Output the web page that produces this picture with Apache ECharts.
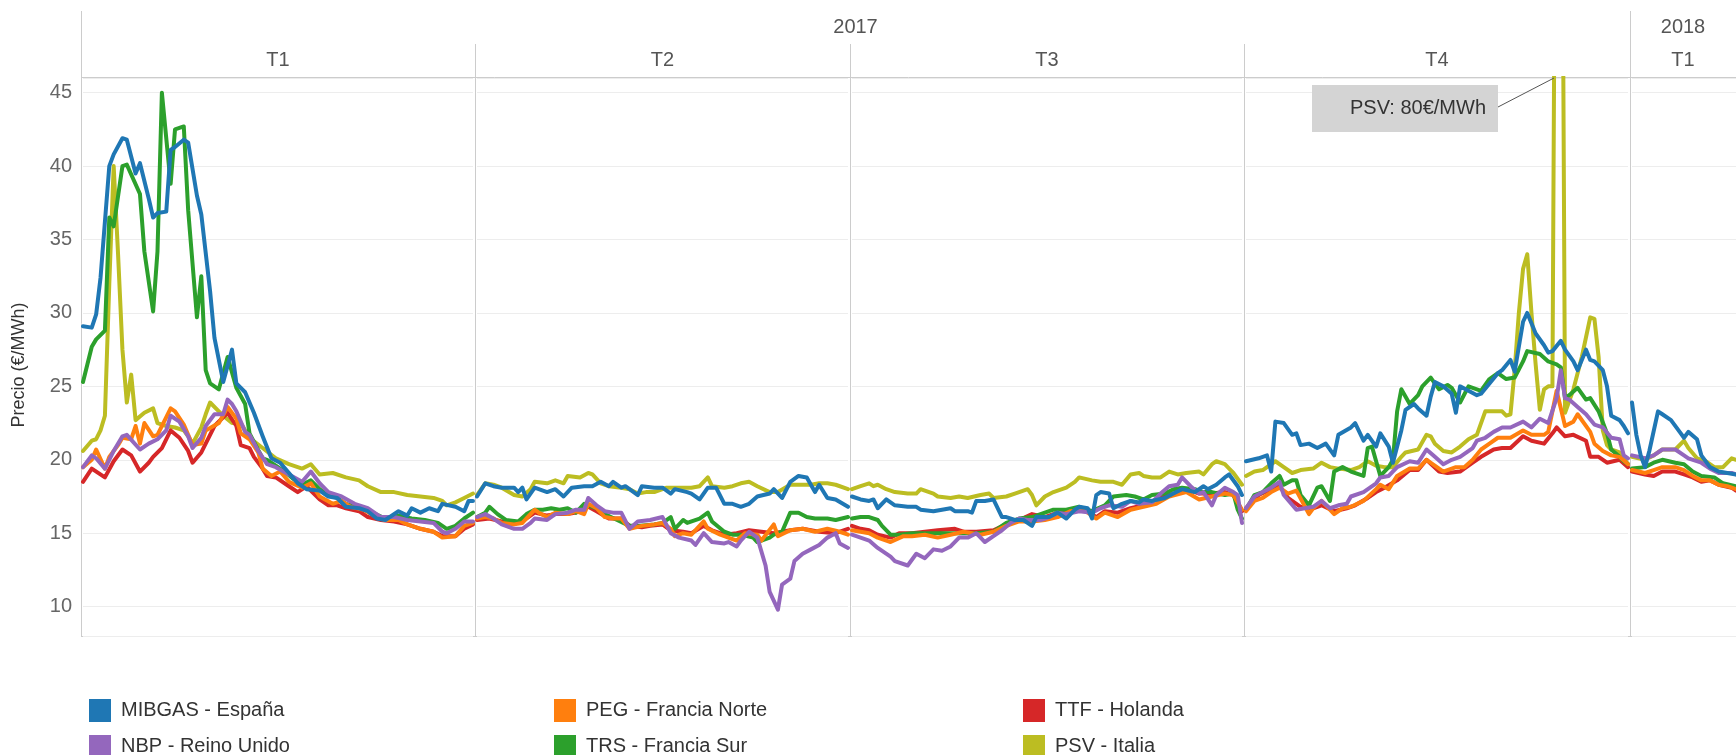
<!DOCTYPE html>
<html>
<head>
<meta charset="utf-8">
<title>Precio gas - hubs europeos</title>
<script src="https://cdn.jsdelivr.net/npm/echarts@6/dist/echarts.min.js"></script>
<style>
  html, body { margin: 0; padding: 0; background: #fff; }
  #chart { width: 1736px; height: 755px; }
</style>
</head>
<body>
<div id="chart"></div>
<script>
// panes: one per quarter, x = day inside the quarter
var yearLabels = ['2017', '2018'];
var quarterLabels = ['T1', 'T2', 'T3', 'T4', 'T1'];
var quarterYear = [0, 0, 0, 0, 1];
var quarterLastDay = [89, 90, 91, 91, 24];

// [day, €/MWh] per quarter
var mibgas = [
  [[0,29.1],[2,29.0],[3,29.9],[4,32.4],[6,40.0],[7,40.8],[9,41.9],[10,41.8],[12,39.5],[13,40.2],[15,37.8],[16,36.5],[17,36.8],[19,36.9],[20,41.1],[21,41.3],[23,41.8],[24,41.6],[26,38.0],[27,36.7],[29,31.5],[30,28.3],[32,25.3],[34,27.5],[35,25.2],[37,24.6],[39,23.2],[41,21.6],[43,20.1],[45,19.8],[47,19.1],[49,18.4],[51,18.0],[54,17.9],[56,17.5],[58,17.4],[60,16.8],[63,16.7],[65,16.5],[67,16.0],[69,15.9],[72,16.5],[74,16.2],[75,16.7],[77,16.4],[79,16.7],[81,16.5],[82,17.0],[85,16.8],[87,16.5],[88,17.2],[89,17.2]],
  [[0,17.5],[2,18.4],[4,18.2],[6,18.1],[9,18.1],[10,17.8],[11,18.1],[12,17.3],[14,18.1],[17,17.8],[19,18.0],[21,17.5],[23,18.1],[26,18.2],[28,18.2],[30,18.5],[32,18.2],[33,18.5],[35,18.1],[36,18.2],[39,17.6],[40,18.2],[43,18.1],[45,18.1],[47,17.7],[48,18.0],[51,17.8],[52,17.7],[54,17.3],[56,18.1],[58,18.1],[60,17.0],[62,17.0],[64,16.8],[66,17.0],[68,17.5],[71,17.7],[72,18.0],[74,17.4],[76,18.5],[78,18.9],[80,18.8],[82,17.8],[83,18.3],[85,17.4],[87,17.3],[90,16.8]],
  [[0,17.5],[2,17.3],[4,17.2],[5,17.3],[6,16.7],[8,17.3],[10,16.9],[13,16.8],[15,16.8],[16,16.6],[19,16.5],[21,16.6],[23,16.7],[24,16.5],[27,16.5],[28,16.4],[29,17.2],[31,17.2],[33,17.3],[35,16.1],[36,16.1],[38,15.9],[40,15.9],[42,15.5],[43,16.1],[46,16.1],[48,16.4],[50,16.0],[52,16.6],[53,16.8],[55,16.7],[56,16.0],[57,17.6],[58,17.8],[60,17.7],[61,16.7],[63,17.0],[65,17.2],[67,17.1],[68,17.3],[70,17.2],[73,17.4],[75,17.7],[77,18.0],[80,17.8],[82,18.2],[83,18.0],[85,18.3],[87,18.8],[88,19.0],[90,18.2],[91,17.6]],
  [[0,19.9],[3,20.1],[5,20.3],[6,19.2],[7,22.6],[9,22.5],[11,21.7],[12,21.8],[13,21.0],[15,21.1],[17,20.8],[19,21.1],[21,20.3],[22,21.7],[25,22.2],[26,22.5],[28,21.3],[29,21.7],[31,20.9],[32,21.8],[34,20.9],[35,19.8],[37,22.0],[38,23.4],[40,23.8],[41,23.5],[43,23.0],[44,24.3],[45,25.3],[47,25.0],[49,24.5],[50,23.2],[51,25.0],[53,24.7],[55,24.4],[56,24.5],[58,25.2],[60,25.9],[61,26.1],[63,26.8],[64,26.0],[66,29.4],[67,30.0],[69,28.6],[71,27.8],[72,27.3],[73,27.4],[75,28.1],[76,27.5],[78,26.7],[79,26.1],[81,27.5],[82,26.8],[83,26.7],[85,26.1],[86,25.0],[87,23.0],[89,22.7],[90,22.3],[91,21.8]],
  [[0,23.9],[1,21.7],[2,20.3],[3,19.5],[4,20.6],[6,23.3],[7,23.1],[9,22.7],[11,21.9],[12,21.5],[13,21.9],[15,21.4],[16,20.3],[18,19.5],[20,19.2],[22,19.1],[24,19.0]]
];
var peg = [
  [[0,19.5],[2,20.0],[3,20.7],[5,19.4],[6,20.2],[8,21.0],[9,21.5],[11,21.4],[12,22.3],[13,21.1],[14,22.5],[16,21.6],[17,21.7],[20,23.5],[21,23.3],[23,22.4],[25,21.0],[27,21.1],[28,22.0],[31,22.5],[33,23.6],[35,22.8],[36,21.8],[38,21.4],[40,20.5],[41,19.4],[43,18.9],[45,19.2],[47,18.5],[50,18.1],[52,18.4],[54,17.5],[57,17.0],[59,17.2],[61,16.8],[64,16.6],[67,16.1],[69,15.9],[72,15.9],[74,15.6],[77,15.3],[80,15.1],[82,14.7],[85,14.8],[87,15.5],[89,15.7]],
  [[0,16.0],[2,16.1],[4,16.0],[6,15.7],[9,15.6],[11,15.7],[14,16.6],[15,16.4],[17,16.1],[19,16.4],[22,16.3],[24,16.5],[26,16.3],[27,17.0],[29,16.7],[31,16.1],[33,16.0],[35,16.0],[37,15.3],[40,15.5],[43,15.6],[45,15.7],[47,15.3],[48,14.8],[50,15.0],[52,14.9],[55,15.8],[56,15.3],[59,14.9],[61,14.7],[63,14.5],[65,15.0],[68,14.9],[69,14.5],[72,15.6],[73,14.8],[76,15.2],[79,15.3],[82,15.1],[85,15.3],[88,15.1],[90,14.9]],
  [[0,15.2],[4,15.0],[6,14.7],[9,14.4],[12,14.8],[14,14.8],[17,14.9],[20,14.7],[23,14.9],[26,15.1],[30,14.9],[33,15.1],[36,15.5],[39,15.8],[42,15.8],[45,15.9],[48,16.1],[51,16.5],[54,16.6],[57,16.0],[59,16.4],[62,16.1],[65,16.6],[68,16.8],[71,17.0],[74,17.5],[78,17.8],[81,17.3],[84,17.5],[87,17.7],[89,17.6],[91,16.6]],
  [[0,16.5],[2,17.2],[4,17.4],[6,17.8],[8,18.1],[10,17.7],[12,17.9],[15,16.3],[16,16.7],[18,17.2],[21,16.3],[23,16.7],[25,16.8],[28,17.2],[31,18.0],[32,18.3],[34,18.0],[36,18.9],[39,19.4],[41,19.4],[43,20.0],[46,19.4],[47,19.2],[50,19.5],[52,19.5],[54,20.0],[56,20.7],[58,21.1],[60,21.5],[63,21.5],[66,22.0],[68,21.7],[71,21.7],[72,21.9],[73,23.3],[74,24.7],[76,22.3],[78,22.6],[79,23.1],[82,21.9],[83,21.1],[85,20.6],[87,20.3],[89,20.2],[91,19.7]],
  [[0,19.3],[3,19.1],[5,19.3],[7,19.5],[10,19.5],[12,19.3],[14,18.9],[16,18.6],[18,18.6],[20,18.3],[22,18.2],[24,18.0]]
];
var ttf = [
  [[0,18.5],[2,19.4],[5,18.8],[7,19.9],[9,20.7],[11,20.3],[13,19.2],[15,19.8],[16,20.2],[18,20.8],[20,22.0],[22,21.5],[24,20.6],[25,19.8],[27,20.5],[29,21.7],[30,22.3],[33,23.2],[35,22.3],[36,21.0],[38,20.8],[39,20.2],[41,19.4],[42,18.9],[44,18.8],[47,18.2],[49,17.8],[51,18.2],[54,17.3],[56,16.9],[58,16.9],[60,16.7],[63,16.5],[65,16.1],[68,15.9],[71,15.8],[74,15.6],[77,15.3],[80,15.1],[82,14.8],[85,14.8],[87,15.3],[89,15.6]],
  [[0,15.9],[3,16.0],[6,15.8],[9,15.7],[11,15.8],[14,16.4],[17,16.2],[19,16.3],[22,16.3],[24,16.4],[27,16.8],[29,16.5],[32,16.0],[35,16.0],[37,15.5],[40,15.4],[42,15.5],[45,15.6],[47,15.2],[50,15.1],[52,15.0],[55,15.5],[57,15.2],[60,14.9],[63,15.0],[66,15.2],[69,15.1],[72,15.0],[74,15.1],[76,15.2],[79,15.3],[83,15.1],[87,15.0],[90,15.3]],
  [[0,15.5],[2,15.3],[4,15.2],[6,14.9],[9,14.7],[11,15.0],[14,15.0],[17,15.1],[20,15.2],[24,15.3],[26,15.1],[29,15.1],[33,15.2],[36,15.6],[39,15.9],[42,16.3],[45,16.1],[48,16.4],[51,16.6],[54,16.7],[57,16.1],[59,16.5],[62,16.4],[65,16.7],[68,16.9],[71,17.3],[74,17.6],[78,18.0],[81,17.7],[84,17.7],[87,17.8],[89,17.6],[91,16.5]],
  [[0,16.7],[3,17.6],[6,18.0],[8,18.2],[10,17.4],[13,16.8],[16,16.7],[18,16.9],[21,16.5],[24,16.7],[26,16.9],[29,17.4],[31,17.8],[33,18.1],[36,18.6],[39,19.3],[41,19.3],[43,20.0],[46,19.2],[48,19.1],[51,19.2],[54,19.8],[56,20.2],[59,20.7],[61,20.8],[63,20.8],[66,21.6],[68,21.3],[71,21.1],[73,21.8],[74,22.2],[76,21.6],[78,21.7],[81,21.3],[82,20.2],[84,20.2],[86,19.8],[89,20.0],[91,19.5]],
  [[0,19.2],[3,19.0],[5,18.9],[7,19.2],[10,19.2],[12,19.0],[14,18.8],[16,18.5],[18,18.6],[20,18.3],[23,18.1],[24,17.9]]
];
var nbp = [
  [[0,19.5],[2,20.3],[3,20.1],[5,19.4],[7,20.6],[9,21.6],[10,21.7],[13,20.7],[15,21.1],[17,21.4],[19,22.0],[20,23.0],[22,22.6],[24,21.6],[25,20.8],[27,21.5],[28,22.3],[30,23.1],[32,23.1],[33,24.1],[34,23.8],[35,23.3],[37,21.9],[38,21.7],[40,20.6],[42,19.7],[44,19.5],[47,19.0],[50,18.5],[52,19.2],[54,18.4],[56,17.8],[59,17.5],[62,17.0],[65,16.7],[68,16.1],[71,16.1],[74,15.9],[77,15.8],[80,15.7],[82,15.1],[83,15.0],[85,15.3],[87,15.8],[89,15.8]],
  [[0,16.1],[2,16.3],[4,16.0],[6,15.6],[9,15.3],[11,15.3],[13,15.7],[14,16.0],[17,15.9],[19,16.3],[22,16.4],[24,16.6],[26,16.6],[27,17.4],[29,16.9],[31,16.5],[33,16.4],[35,16.4],[37,15.3],[39,15.8],[42,15.9],[45,16.1],[47,15.0],[49,14.7],[52,14.5],[53,14.2],[55,15.0],[57,14.4],[60,14.3],[61,14.4],[63,14.1],[64,14.5],[66,15.1],[68,14.7],[70,12.8],[71,11.0],[73,9.8],[74,11.5],[76,11.9],[77,13.1],[79,13.6],[81,13.9],[83,14.2],[85,14.7],[87,15.0],[88,14.3],[90,14.0]],
  [[0,14.9],[2,14.7],[4,14.5],[6,14.0],[9,13.4],[10,13.1],[13,12.8],[15,13.6],[17,13.3],[19,13.9],[21,13.8],[23,14.1],[25,14.7],[27,14.7],[29,15.0],[31,14.4],[33,14.8],[35,15.2],[37,15.7],[39,16.0],[41,15.9],[44,15.9],[46,16.1],[48,16.4],[50,16.3],[53,16.5],[56,16.4],[58,16.7],[60,16.9],[63,16.8],[65,17.2],[67,17.0],[70,17.1],[72,17.7],[74,18.2],[76,18.3],[77,18.8],[79,18.2],[81,17.7],[82,17.8],[84,16.9],[85,17.6],[87,18.1],[89,17.8],[90,17.6],[91,15.7]],
  [[0,16.7],[2,17.5],[4,17.8],[6,18.1],[8,18.5],[9,17.6],[12,16.6],[14,16.7],[16,16.8],[18,17.2],[20,16.7],[22,16.9],[24,17.0],[25,17.5],[28,17.8],[31,18.4],[32,18.8],[34,18.9],[36,19.5],[39,19.9],[41,19.8],[43,20.7],[45,20.2],[47,19.7],[49,20.0],[51,20.2],[54,20.8],[55,21.3],[57,21.5],[59,21.9],[61,22.2],[63,22.2],[66,22.6],[68,22.2],[70,22.8],[72,22.5],[74,24.2],[75,26.1],[76,24.2],[77,24.1],[79,23.6],[81,23.1],[83,22.4],[85,22.2],[87,21.5],[89,21.4],[90,20.3],[91,20.1]],
  [[0,20.3],[3,20.1],[5,20.3],[7,20.7],[10,20.7],[12,20.3],[13,20.1],[16,19.8],[18,19.4],[20,19.1],[23,19.1],[24,19.0]]
];
var trs = [
  [[0,25.3],[2,27.7],[3,28.2],[5,28.8],[6,36.5],[7,35.9],[9,40.0],[10,40.1],[13,38.1],[14,34.2],[16,30.1],[17,34.2],[18,45.0],[20,38.8],[21,42.5],[23,42.7],[24,37.0],[26,29.7],[27,32.5],[28,26.1],[29,25.2],[31,24.8],[33,27.0],[35,24.9],[37,23.8],[38,21.8],[41,20.1],[42,20.0],[44,19.6],[46,19.2],[48,18.7],[50,18.3],[52,18.6],[54,18.0],[56,17.6],[58,17.4],[60,17.0],[63,16.8],[66,16.4],[69,16.0],[72,16.2],[75,16.0],[78,15.9],[81,15.7],[83,15.3],[85,15.5],[87,16.0],[89,16.4]],
  [[0,16.1],[2,16.4],[3,16.8],[5,16.3],[7,15.9],[10,15.8],[12,16.3],[14,16.6],[16,16.6],[18,16.7],[20,16.6],[22,16.7],[24,16.4],[26,17.0],[29,16.7],[31,16.3],[34,15.9],[37,15.5],[39,15.5],[43,15.6],[45,15.7],[47,16.1],[48,15.3],[50,15.9],[51,15.7],[54,16.0],[56,16.4],[57,15.8],[60,15.1],[62,14.9],[64,14.9],[67,14.7],[68,14.4],[71,14.7],[72,14.9],[74,15.1],[76,16.4],[78,16.4],[80,16.1],[82,16.0],[85,16.0],[87,15.9],[90,16.1]],
  [[0,16.0],[2,16.1],[4,16.1],[6,15.9],[7,15.5],[9,14.9],[11,14.9],[14,15.0],[17,15.0],[20,15.0],[23,15.0],[26,15.0],[29,15.0],[33,15.1],[36,15.7],[39,16.0],[42,16.1],[45,16.4],[47,16.6],[50,16.6],[53,16.8],[56,16.5],[59,16.9],[61,17.5],[64,17.6],[66,17.5],[68,17.3],[70,17.6],[73,17.7],[75,18.0],[77,18.1],[80,18.0],[82,17.8],[84,17.8],[87,17.6],[89,17.7],[90,16.6],[91,16.0]],
  [[0,16.6],[2,17.6],[4,17.8],[6,18.4],[8,18.9],[9,18.3],[11,18.6],[12,18.6],[13,17.6],[15,16.9],[17,18.1],[18,18.2],[20,17.2],[21,19.2],[23,19.5],[25,19.2],[28,18.9],[29,20.8],[30,20.9],[32,18.9],[34,19.5],[35,20.0],[36,23.3],[37,24.8],[39,23.8],[41,24.4],[42,25.0],[44,25.6],[46,24.8],[48,25.1],[49,24.9],[51,23.9],[53,25.0],[56,24.7],[58,25.5],[60,25.9],[62,25.5],[64,25.6],[66,26.7],[67,27.4],[70,27.2],[72,26.7],[74,26.5],[75,26.3],[76,24.2],[77,24.4],[79,24.9],[81,24.1],[82,24.2],[84,23.3],[86,21.8],[87,20.7],[89,20.2],[90,19.9],[91,19.7]],
  [[0,19.4],[3,19.5],[5,19.8],[7,20.0],[10,19.8],[12,19.7],[14,19.2],[16,18.9],[19,18.8],[21,18.4],[24,18.2]]
];
var psv = [
  [[0,20.6],[2,21.3],[3,21.4],[4,22.0],[5,23.0],[6,32.0],[7,40.0],[8,34.0],[9,27.5],[10,23.9],[11,25.8],[12,22.7],[14,23.2],[16,23.5],[17,22.5],[19,22.3],[21,22.2],[23,22.0],[24,21.6],[25,21.1],[27,22.2],[28,23.1],[29,23.9],[31,23.3],[32,23.0],[34,22.5],[36,22.5],[38,21.5],[41,20.8],[44,20.1],[47,19.7],[50,19.4],[52,19.7],[54,19.0],[57,19.1],[60,18.8],[63,18.6],[65,18.2],[68,17.8],[71,17.8],[74,17.6],[77,17.5],[80,17.4],[82,17.2],[83,16.9],[85,17.1],[87,17.4],[89,17.7]],
  [[0,17.6],[2,18.4],[4,18.3],[6,18.1],[9,17.6],[11,17.5],[13,18.0],[14,18.5],[17,18.4],[19,18.6],[21,18.4],[22,18.9],[25,18.8],[27,19.1],[28,19.0],[30,18.4],[32,18.2],[35,18.1],[37,18.0],[39,17.7],[41,17.8],[43,17.8],[46,18.1],[48,18.1],[52,18.1],[54,18.2],[56,18.8],[57,18.2],[60,18.1],[62,18.2],[64,18.4],[66,18.5],[68,18.2],[71,17.8],[73,17.8],[76,18.3],[78,18.3],[81,18.3],[83,18.4],[85,18.4],[87,18.3],[90,18.0]],
  [[0,18.0],[2,18.2],[4,18.4],[5,18.2],[6,18.3],[8,18.0],[10,17.8],[13,17.7],[15,17.7],[16,18.0],[19,17.7],[20,17.5],[23,17.4],[25,17.5],[27,17.4],[30,17.6],[32,17.7],[33,17.4],[36,17.5],[38,17.7],[41,18.0],[42,17.6],[43,16.9],[45,17.5],[47,17.8],[50,18.1],[52,18.5],[53,18.8],[56,18.6],[58,18.5],[61,18.5],[63,18.3],[65,19.0],[67,19.1],[68,18.9],[70,18.8],[72,18.8],[74,19.2],[76,19.0],[78,19.1],[81,19.2],[82,19.0],[84,19.7],[85,19.9],[87,19.7],[88,19.4],[89,19.1],[91,18.3]],
  [[0,18.9],[2,19.2],[4,19.3],[7,19.9],[9,19.5],[11,19.1],[13,19.3],[16,19.4],[18,19.8],[20,19.5],[22,19.4],[25,19.3],[27,19.5],[29,19.9],[31,19.6],[33,19.5],[35,19.5],[37,20.2],[38,20.5],[41,20.7],[43,21.7],[44,21.6],[45,21.1],[47,20.6],[49,20.5],[51,20.9],[53,21.4],[55,21.7],[57,23.3],[59,23.3],[61,23.3],[62,23.0],[63,23.1],[64,26.1],[65,30.0],[66,33.0],[67,34.0],[68,30.0],[69,26.5],[70,23.4],[71,24.8],[72,25.0],[73,25.0],[74,80.0],[75,80.0],[76,23.2],[78,24.8],[80,27.0],[82,29.7],[83,29.6],[84,27.0],[85,22.0],[86,21.0],[87,20.7],[89,20.5],[91,19.7]],
  [[0,20.2],[3,20.0],[5,20.3],[7,20.7],[10,20.7],[12,21.3],[13,20.8],[15,20.1],[17,19.9],[19,19.5],[21,19.5],[23,20.1],[24,20.0]]
];

// drawing order: last one on top
var hubNames = ['PSV - Italia', 'TTF - Holanda', 'TRS - Francia Sur', 'PEG - Francia Norte', 'NBP - Reino Unido', 'MIBGAS - España'];
var hubData = [psv, ttf, trs, peg, nbp, mibgas];
var hubColors = ['#bcbd22', '#d62728', '#2ca02c', '#ff7f0e', '#9467bd', '#1f77b4'];

// legend grid: rows x columns
var legendRows = [
  ['MIBGAS - España', 'PEG - Francia Norte', 'TTF - Holanda'],
  ['NBP - Reino Unido', 'TRS - Francia Sur', 'PSV - Italia']
];

// layout (px)
var FONT = '"Liberation Sans", Arial, sans-serif';
var paneEdges = [81, 475, 850, 1244, 1630, 1736];
var plotTop = 78, plotBottom = 636;
var headerTop = 11, quarterTop = 44;
var legendLefts = [89, 554, 1023];
var legendTops = [699, 735];
var lineCol = '#cccccc';

var chart = echarts.init(document.getElementById('chart'));

var grids = [], xAxes = [], yAxes = [], series = [], graphics = [], legends = [];

quarterLabels.forEach(function (q, i) {
  var left = paneEdges[i] + 2;
  var width = paneEdges[i + 1] - paneEdges[i] - (i === quarterLabels.length - 1 ? 2 : 4);
  grids.push({ left: left, top: plotTop, width: width, height: plotBottom - plotTop });
  xAxes.push({ gridIndex: i, type: 'value', min: 0, max: quarterLastDay[i], show: false });
  yAxes.push({
    gridIndex: i, type: 'value', min: 8, max: 46, minInterval: 5, maxInterval: 5,
    axisLine: { show: false }, axisTick: { show: false },
    axisLabel: {
      show: i === 0, fontSize: 20, color: '#666', margin: 11, fontFamily: FONT,
      formatter: function (v) { return v % 5 === 0 ? String(v) : ''; }
    },
    splitLine: { lineStyle: { color: '#ededed', width: 1 } }
  });
  hubNames.forEach(function (name, h) {
    series.push({
      name: name, type: 'line', xAxisIndex: i, yAxisIndex: i,
      data: hubData[h][i], showSymbol: false, symbol: 'none', clip: true,
      lineStyle: { width: 4, color: hubColors[h], join: 'round', cap: 'round' },
      itemStyle: { color: hubColors[h] },
      emphasis: { disabled: true }
    });
  });

  // quarter label and divider
  graphics.push({
    type: 'text', x: (paneEdges[i] + paneEdges[i + 1]) / 2, y: 60,
    style: { text: q, fontSize: 20, fill: '#555', fontFamily: FONT, textAlign: 'center', textVerticalAlign: 'middle' }
  });
  var newYear = i === 0 || quarterYear[i] !== quarterYear[i - 1];
  graphics.push({
    type: 'line', shape: { x1: paneEdges[i] + 0.5, y1: newYear ? headerTop : quarterTop, x2: paneEdges[i] + 0.5, y2: plotBottom },
    style: { stroke: lineCol, lineWidth: 1 }
  });
});

// year labels
yearLabels.forEach(function (y, k) {
  var panes = [];
  quarterYear.forEach(function (qy, i) { if (qy === k) panes.push(i); });
  var x0 = paneEdges[panes[0]], x1 = paneEdges[panes[panes.length - 1] + 1];
  graphics.push({
    type: 'text', x: (x0 + x1) / 2, y: 27,
    style: { text: y, fontSize: 20, fill: '#555', fontFamily: FONT, textAlign: 'center', textVerticalAlign: 'middle' }
  });
});

// header bottom line and x axis line
graphics.push({ type: 'line', shape: { x1: paneEdges[0], y1: plotTop - 0.5, x2: 1736, y2: plotTop - 0.5 }, style: { stroke: lineCol, lineWidth: 1 } });
graphics.push({ type: 'line', shape: { x1: paneEdges[0], y1: plotBottom + 0.5, x2: 1736, y2: plotBottom + 0.5 }, style: { stroke: lineCol, lineWidth: 1 } });

// y axis title
graphics.push({
  type: 'text', x: 19, y: 365, rotation: Math.PI / 2,
  style: { text: 'Precio (€/MWh)', fontSize: 18, fill: '#333', fontFamily: FONT, textAlign: 'center', textVerticalAlign: 'middle' }
});

// PSV annotation
graphics.push({ type: 'rect', z: 100, shape: { x: 1312, y: 85, width: 186, height: 47 }, style: { fill: '#d4d4d4' } });
graphics.push({
  type: 'text', z: 101, x: 1486, y: 108,
  style: { text: 'PSV: 80€/MWh', fontSize: 20, fill: '#333', fontFamily: FONT, textAlign: 'right', textVerticalAlign: 'middle' }
});
graphics.push({ type: 'line', z: 101, shape: { x1: 1498, y1: 107, x2: 1554, y2: 78 }, style: { stroke: '#555', lineWidth: 1 } });

// one legend per cell so the columns line up
legendRows.forEach(function (row, r) {
  row.forEach(function (name, c) {
    legends.push({
      data: [name], left: legendLefts[c], top: legendTops[r], padding: 0,
      icon: 'rect', itemWidth: 22, itemHeight: 23,
      itemStyle: { borderWidth: 0 },
      textStyle: { fontSize: 20, color: '#333', fontFamily: FONT, padding: [0, 0, 0, 5] }
    });
  });
});

chart.setOption({
  animation: false,
  backgroundColor: '#fff',
  grid: grids,
  xAxis: xAxes,
  yAxis: yAxes,
  legend: legends,
  graphic: graphics,
  series: series
});
</script>
</body>
</html>
